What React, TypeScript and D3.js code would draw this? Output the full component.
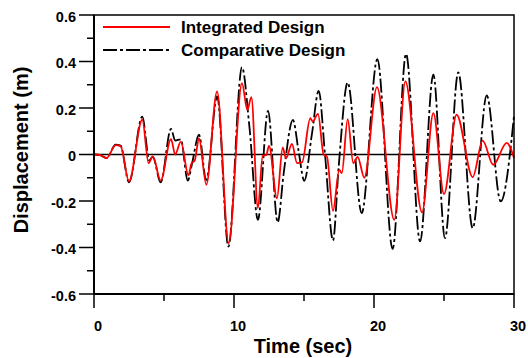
import { scaleLinear, line, curveMonotoneX } from 'd3'

// series key points (time in sec, displacement in m)
const integratedTime = [
  0, 0.4, 0.9, 1.55, 1.9, 2.5, 3.45, 3.9, 4.2, 4.76, 5.5, 5.8, 6.2, 6.75, 6.95, 7.2, 7.5, 8.02,
  8.79, 9.62, 10.57, 10.95, 11.24, 11.71, 12.05, 12.3, 12.5, 13.07, 13.48, 13.71, 14.14, 14.5,
  14.86, 15.45, 15.62, 16.0, 16.4, 16.64, 17.07, 17.52, 17.7, 18.12, 18.52, 18.83, 19.31, 20.21,
  21.45, 22.24, 23.43, 24.24, 25.0, 25.9, 27.05, 27.76, 28.52, 29.48, 30,
]
const integratedDisp = [
  0, -0.002, -0.015, 0.04, 0.036, -0.115, 0.15, -0.037, -0.008, -0.112, 0.066, 0.0, 0.055, -0.09, -0.04, -0.025, 0.07, -0.13,
  0.271, -0.381, 0.307, 0.192, 0.247, -0.23, -0.005, -0.003, 0.037, -0.188, 0.03, -0.016, 0.046, -0.037,
  -0.034, 0.156, 0.142, 0.175, 0.0, -0.01, -0.242, -0.066, -0.08, 0.152, -0.037, -0.01, -0.1, 0.29,
  -0.281, 0.314, -0.249, 0.178, -0.17, 0.171, -0.097, 0.06, -0.044, 0.05, -0.015,
]

const comparativeTime = [
  0, 0.4, 0.9, 1.55, 1.9, 2.5, 3.45, 3.95, 4.2, 4.76, 5.5, 5.8, 6.2, 6.7, 7.0, 7.5, 8.02, 8.8,
  9.6, 10.57, 11.1, 11.71, 12.43, 13.12, 13.55, 14.21, 14.6, 15.02, 15.57, 16.05, 16.5, 17.07,
  17.48, 18.12, 19.12, 20.24, 21.33, 22.29, 23.29, 24.24, 25.07, 26.02, 27.05, 28.05, 29.05, 30,
]
const comparativeDisp = [
  0, -0.002, -0.015, 0.042, 0.038, -0.12, 0.163, -0.025, -0.01, -0.12, 0.11, 0.06, 0.065, -0.112, -0.04, 0.085, -0.11, 0.25,
  -0.396, 0.376, 0.12, -0.281, 0.188, -0.292, -0.08, 0.149, 0.02, -0.113, 0.09, 0.274, 0.0, -0.37,
  -0.05, 0.31, -0.252, 0.41, -0.406, 0.433, -0.374, 0.343, -0.36, 0.353, -0.317, 0.254, -0.202, 0.165,
]

const xMajor = [0, 10, 20, 30]
const xMinor = [5, 15, 25]
const yMajor = [-0.6, -0.4, -0.2, 0, 0.2, 0.4, 0.6]
const yMinor = [-0.5, -0.3, -0.1, 0.1, 0.3, 0.5]
const seriesNames = ['Integrated Design', 'Comparative Design']

const W = 528
const H = 358
const plot = { left: 94, right: 514, top: 15, bottom: 294 }
const font = 'Arial, "Liberation Sans", sans-serif'

const x = scaleLinear().domain([0, 30]).range([plot.left, plot.right])
const y = scaleLinear().domain([-0.6, 0.6]).range([plot.bottom, plot.top])

const toPoints = (t: number[], v: number[]) => t.map((d, i) => [d, v[i]] as [number, number])

const path = line<[number, number]>()
  .x(d => x(d[0]))
  .y(d => y(d[1]))
  .curve(curveMonotoneX)

const App = () => {
  const fmt = (v: number) => (v === 0 ? '0' : v.toFixed(1))
  return (
    <svg width={W} height={H} style={{ position: 'absolute', left: 0, top: 0, background: '#fff' }}
      fontFamily={font} fontWeight="bold">
      {/* zero line */}
      <line x1={plot.left} x2={plot.right} y1={y(0)} y2={y(0)} stroke="#000" strokeWidth={1.5} />

      <path d={path(toPoints(comparativeTime, comparativeDisp)) || ''} fill="none" stroke="#000"
        strokeWidth={1.8} strokeDasharray="14,3,3,3" />
      <path d={path(toPoints(integratedTime, integratedDisp)) || ''} fill="none" stroke="#ff0000"
        strokeWidth={1.8} />

      {/* frame */}
      <rect x={plot.left} y={plot.top} width={plot.right - plot.left} height={plot.bottom - plot.top}
        fill="none" stroke="#000" strokeWidth={1.5} />
      <line x1={plot.left} x2={plot.left} y1={plot.top} y2={plot.bottom} stroke="#000" strokeWidth={2} />
      <line x1={plot.left} x2={plot.right} y1={plot.bottom} y2={plot.bottom} stroke="#000" strokeWidth={2} />

      {/* y axis */}
      {yMajor.map(v => (
        <g key={'ym' + v}>
          <line x1={plot.left - 15} x2={plot.left} y1={y(v)} y2={y(v)} stroke="#000" strokeWidth={1.5} />
          <text x={76} y={y(v) + 6.5} textAnchor="end" fontSize={14.5}>{fmt(v)}</text>
        </g>
      ))}
      {yMinor.map(v => (
        <line key={'yn' + v} x1={plot.left - 7} x2={plot.left} y1={y(v)} y2={y(v)} stroke="#000" strokeWidth={1.5} />
      ))}

      {/* x axis */}
      {xMajor.map(v => (
        <g key={'xm' + v}>
          <line x1={x(v)} x2={x(v)} y1={plot.bottom} y2={plot.bottom + 14} stroke="#000" strokeWidth={1.5} />
          <text x={x(v) + 4} y={330.5} textAnchor="middle" fontSize={14.5}>{v}</text>
        </g>
      ))}
      {xMinor.map(v => (
        <line key={'xn' + v} x1={x(v)} x2={x(v)} y1={plot.bottom} y2={plot.bottom + 7} stroke="#000" strokeWidth={1.5} />
      ))}

      <text x={303} y={353} textAnchor="middle" fontSize={20}>Time (sec)</text>
      <text transform="translate(28,150) rotate(-90)" textAnchor="middle" fontSize={20}>Displacement (m)</text>

      {/* legend */}
      <line x1={103} x2={170} y1={27} y2={27} stroke="#ff0000" strokeWidth={1.8} />
      <text x={181} y={33.3} fontSize={17}>{seriesNames[0]}</text>
      <line x1={103} x2={170} y1={50} y2={50} stroke="#000" strokeWidth={1.8} strokeDasharray="14,3,3,3" />
      <text x={181} y={55.5} fontSize={17}>{seriesNames[1]}</text>
    </svg>
  )
}

export default App
